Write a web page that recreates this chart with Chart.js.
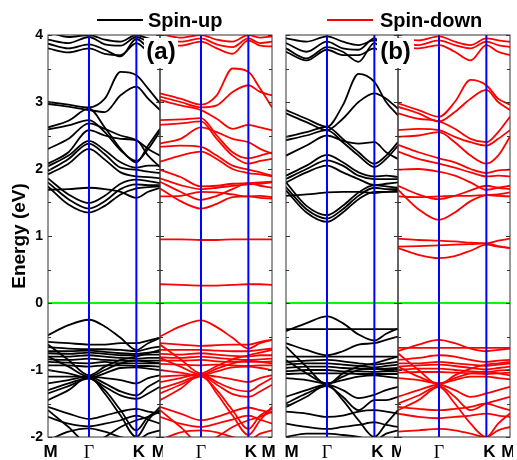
<!DOCTYPE html>
<html>
<head>
<meta charset="utf-8">
<script src="https://cdn.jsdelivr.net/npm/chart.js@4.4.1/dist/chart.umd.min.js"></script>
<style>
  body { margin: 0; background: #fff; }
  #wrap { position: relative; width: 517px; height: 460px; overflow: hidden; font-family: "Liberation Sans", Arial, sans-serif; }
  canvas { position: absolute; top: 0; }
  .legline { position: absolute; height: 2px; }
  .legtxt { position: absolute; font-weight: bold; font-size: 20px; line-height: 20px; color: #000; white-space: nowrap; }
  .plabel { position: absolute; background: #fff; font-weight: bold; font-size: 24px; line-height: 26px; text-align: center; color: #000; }
</style>
</head>
<body>
<div id="wrap">
  <canvas id="pA1"></canvas>
  <canvas id="pA2"></canvas>
  <canvas id="pB1"></canvas>
  <canvas id="pB2"></canvas>
  <div class="legline" style="left:97px;top:19px;width:46px;background:#000"></div>
  <div class="legtxt" style="left:148px;top:10px">Spin-up</div>
  <div class="legline" style="left:327px;top:19px;width:46px;background:#ff0000"></div>
  <div class="legtxt" style="left:380px;top:10px">Spin-down</div>
  <div class="plabel" style="left:144px;top:38px;width:34px;height:30px">(a)</div>
  <div class="plabel" style="left:377px;top:38px;width:37px;height:30px">(b)</div>
</div>
<script>
// k path M - Γ - K - M, as fraction of path length
const kPts = [0, 0.183, 0.366, 0.507, 0.648, 0.789, 0.894, 1];
const eTicks = [-2, -1, 0, 1, 2, 3, 4];

// (a) spin-up, energies in eV at kPts
const upA = [
  [4.05, 3.97, 4.0, 3.93, 3.9, 4.0, 3.95, 3.92],
  [3.93, 3.88, 3.97, 3.86, 3.84, 3.97, 3.9, 3.86],
  [3.87, 3.8, 3.86, 3.78, 3.68, 3.94, 3.82, 3.79],
  [3.8, 3.74, 3.8, 3.72, 3.7, 3.88, 3.76, 3.73],
  [3.0, 2.96, 2.92, 3.05, 3.45, 3.4, 3.2, 2.98],
  [2.97, 2.93, 2.88, 2.85, 3.1, 3.23, 3.05, 2.88],
  [2.62, 2.72, 2.9, 2.62, 2.3, 2.1, 2.35, 2.6],
  [2.59, 2.65, 2.73, 2.55, 2.28, 2.12, 2.3, 2.56],
  [2.3, 2.45, 2.68, 2.6, 2.5, 2.43, 2.3, 2.2],
  [2.08, 2.25, 2.58, 2.5, 2.45, 2.43, 2.2, 2.03],
  [2.04, 2.2, 2.42, 2.28, 2.1, 2.02, 2.05, 2.05],
  [1.97, 2.15, 2.38, 2.22, 2.02, 1.99, 1.96, 1.94],
  [1.92, 2.08, 2.3, 2.14, 1.95, 1.89, 1.88, 1.86],
  [1.86, 1.62, 1.49, 1.6, 1.78, 1.84, 1.82, 1.79],
  [1.8, 1.55, 1.41, 1.52, 1.7, 1.77, 1.76, 1.76],
  [1.74, 1.47, 1.35, 1.45, 1.62, 1.71, 1.73, 1.74],
  [1.69, 1.7, 1.72, 1.7, 1.66, 1.57, 1.66, 1.72],
  [-0.48, -0.33, -0.25, -0.35, -0.52, -0.7, -0.6, -0.52],
  [-0.58, -0.6, -0.62, -0.62, -0.6, -0.6, -0.56, -0.52],
  [-0.66, -0.68, -0.69, -0.69, -0.7, -0.72, -0.68, -0.65],
  [-0.72, -0.72, -0.71, -0.73, -0.75, -0.76, -0.74, -0.73],
  [-0.75, -0.76, -0.74, -0.76, -0.78, -0.78, -0.77, -0.77],
  [-0.8, -0.8, -0.78, -0.8, -0.82, -0.83, -0.82, -0.82],
  [-0.84, -0.85, -0.83, -0.85, -0.86, -0.86, -0.86, -0.86],
  [-0.88, -0.89, -0.9, -0.88, -0.9, -0.9, -0.9, -0.9],
  [-0.93, -0.93, -0.95, -0.93, -0.93, -0.94, -0.94, -0.95],
  [-0.62, -0.85, -1.08, -0.95, -0.85, -0.8, -0.75, -0.7],
  [-0.8, -0.95, -1.1, -1.0, -0.9, -0.86, -0.88, -0.9],
  [-1.0, -1.05, -1.12, -1.05, -0.97, -0.96, -0.98, -1.0],
  [-1.1, -1.1, -1.1, -1.12, -1.15, -1.2, -1.12, -1.08],
  [-1.2, -1.15, -1.1, -1.2, -1.32, -1.38, -1.25, -1.15],
  [-1.3, -1.2, -1.12, -1.25, -1.38, -1.43, -1.35, -1.25],
  [-1.45, -1.3, -1.1, -1.35, -1.68, -2.0, -1.75, -1.55],
  [-1.35, -1.24, -1.13, -1.3, -1.6, -1.9, -1.7, -1.6],
  [-1.55, -1.65, -1.73, -1.68, -1.62, -1.58, -1.62, -1.65],
  [-1.7, -1.8, -1.84, -1.8, -1.75, -1.68, -1.74, -1.8],
  [-2.05, -1.92, -1.87, -1.92, -2.0, -2.05, -1.95, -1.9],
  [-1.6, -1.85, -2.1, -2.0, -1.85, -1.75, -1.7, -1.62]
];

// (a) spin-down
const dnA = [
  [4.02, 3.96, 4.0, 3.93, 3.9, 4.0, 3.96, 3.98],
  [3.93, 3.9, 3.95, 3.86, 3.82, 3.95, 3.88, 3.9],
  [3.88, 3.84, 3.9, 3.8, 3.72, 3.92, 3.84, 3.83],
  [3.13, 3.05, 2.96, 3.1, 3.5, 3.45, 3.2, 2.92],
  [3.08, 3.0, 2.92, 2.95, 3.15, 3.25, 3.15, 3.1],
  [3.03, 2.95, 2.88, 2.75, 2.6, 2.66, 2.62, 2.58],
  [2.73, 2.74, 2.76, 2.5, 2.25, 2.16, 2.2, 2.25],
  [2.66, 2.68, 2.71, 2.45, 2.2, 2.08, 2.12, 2.15],
  [2.38, 2.45, 2.62, 2.55, 2.45, 2.4, 2.3, 2.23],
  [2.33, 2.35, 2.33, 2.2, 2.05, 1.99, 1.95, 1.9],
  [2.11, 2.2, 2.26, 2.15, 2.0, 1.94, 1.92, 1.89],
  [1.99, 1.88, 1.74, 1.75, 1.78, 1.79, 1.8, 1.81],
  [1.86, 1.76, 1.7, 1.72, 1.75, 1.77, 1.78, 1.8],
  [1.81, 1.66, 1.54, 1.6, 1.7, 1.79, 1.75, 1.72],
  [1.71, 1.52, 1.41, 1.48, 1.58, 1.59, 1.57, 1.56],
  [1.59, 1.6, 1.66, 1.65, 1.62, 1.59, 1.6, 1.58],
  [0.95, 0.95, 0.94, 0.94, 0.95, 0.95, 0.95, 0.95],
  [0.28, 0.27, 0.26, 0.26, 0.27, 0.28, 0.28, 0.27],
  [-0.5, -0.35, -0.26, -0.36, -0.52, -0.68, -0.6, -0.55],
  [-0.6, -0.62, -0.64, -0.63, -0.62, -0.62, -0.58, -0.55],
  [-0.7, -0.7, -0.7, -0.71, -0.72, -0.72, -0.7, -0.68],
  [-0.76, -0.77, -0.75, -0.77, -0.79, -0.8, -0.78, -0.78],
  [-0.81, -0.82, -0.8, -0.82, -0.84, -0.85, -0.84, -0.83],
  [-0.86, -0.86, -0.85, -0.87, -0.88, -0.88, -0.88, -0.87],
  [-0.91, -0.92, -0.93, -0.92, -0.93, -0.94, -0.93, -0.93],
  [-0.62, -0.84, -1.05, -0.94, -0.84, -0.78, -0.74, -0.7],
  [-0.82, -0.95, -1.07, -0.98, -0.9, -0.86, -0.88, -0.9],
  [-1.0, -1.04, -1.08, -1.02, -0.96, -0.95, -0.97, -1.0],
  [-1.1, -1.08, -1.07, -1.1, -1.14, -1.18, -1.12, -1.08],
  [-1.18, -1.12, -1.06, -1.18, -1.28, -1.32, -1.22, -1.12],
  [-1.28, -1.18, -1.08, -1.22, -1.36, -1.4, -1.32, -1.22],
  [-1.45, -1.28, -1.07, -1.35, -1.68, -1.97, -1.75, -1.55],
  [-1.35, -1.22, -1.1, -1.3, -1.6, -1.88, -1.68, -1.58],
  [-1.55, -1.65, -1.75, -1.7, -1.62, -1.56, -1.6, -1.64],
  [-1.7, -1.8, -1.85, -1.8, -1.74, -1.68, -1.74, -1.8],
  [-2.05, -1.93, -1.9, -1.93, -2.0, -2.05, -1.95, -1.9],
  [-1.6, -1.85, -2.1, -2.0, -1.85, -1.75, -1.7, -1.62]
];

// (b) spin-up
const upB = [
  [3.95, 3.9, 3.98, 3.9, 3.85, 3.92, 3.9, 3.88],
  [3.88, 3.75, 3.9, 3.8, 3.78, 3.95, 3.8, 3.82],
  [3.8, 3.65, 3.82, 3.75, 3.6, 3.88, 3.75, 3.75],
  [3.75, 3.62, 3.78, 3.7, 3.7, 3.8, 3.7, 3.7],
  [2.88, 2.75, 2.63, 2.95, 3.42, 3.3, 3.0, 2.8],
  [2.83, 2.7, 2.58, 2.75, 3.0, 3.13, 3.05, 2.9],
  [2.48, 2.55, 2.63, 2.45, 2.25, 2.08, 2.2, 2.4],
  [2.43, 2.5, 2.58, 2.4, 2.2, 2.03, 2.15, 2.35],
  [2.2, 2.35, 2.5, 2.42, 2.38, 2.4, 2.25, 2.15],
  [1.9, 2.05, 2.21, 2.1, 1.95, 1.89, 1.9, 1.88],
  [1.85, 2.0, 2.13, 2.05, 1.9, 1.85, 1.85, 1.85],
  [1.8, 1.95, 2.05, 1.95, 1.85, 1.76, 1.78, 1.8],
  [1.8, 1.45, 1.31, 1.45, 1.65, 1.76, 1.74, 1.72],
  [1.73, 1.4, 1.26, 1.4, 1.6, 1.72, 1.7, 1.7],
  [1.68, 1.35, 1.21, 1.35, 1.55, 1.66, 1.66, 1.68],
  [1.6, 1.62, 1.65, 1.66, 1.66, 1.64, 1.66, 1.66],
  [-0.42, -0.3, -0.2, -0.3, -0.47, -0.56, -0.46, -0.38],
  [-0.39, -0.39, -0.39, -0.39, -0.39, -0.39, -0.39, -0.39],
  [-0.6, -0.7, -0.78, -0.72, -0.62, -0.6, -0.55, -0.5],
  [-0.8, -0.8, -0.8, -0.8, -0.8, -0.8, -0.8, -0.8],
  [-0.88, -0.86, -0.85, -0.87, -0.9, -0.92, -0.9, -0.88],
  [-0.92, -0.9, -0.9, -0.92, -0.94, -0.96, -0.94, -0.92],
  [-0.97, -0.95, -0.95, -0.97, -0.98, -0.99, -0.98, -0.97],
  [-1.02, -1.0, -1.0, -1.02, -1.02, -1.03, -1.02, -1.02],
  [-1.06, -1.05, -1.05, -1.05, -1.06, -1.06, -1.06, -1.06],
  [-0.65, -0.95, -1.22, -1.05, -0.95, -0.9, -0.85, -0.8],
  [-0.85, -1.05, -1.2, -1.1, -1.0, -0.98, -1.0, -1.0],
  [-1.12, -1.15, -1.2, -1.15, -1.1, -1.08, -1.1, -1.12],
  [-1.4, -1.3, -1.22, -1.3, -1.42, -1.37, -1.3, -1.25],
  [-1.5, -1.35, -1.24, -1.4, -1.6, -1.45, -1.45, -1.4],
  [-1.55, -1.4, -1.22, -1.45, -1.75, -2.0, -1.8, -1.6],
  [-1.62, -1.65, -1.7, -1.68, -1.62, -1.6, -1.62, -1.65],
  [-1.8, -1.85, -1.88, -1.85, -1.82, -1.78, -1.82, -1.85],
  [-2.0, -1.95, -1.95, -1.97, -2.0, -2.05, -1.95, -1.9]
];

// (b) spin-down
const dnB = [
  [3.95, 3.92, 3.98, 3.9, 3.85, 3.95, 3.92, 3.9],
  [3.9, 3.85, 3.92, 3.85, 3.8, 3.9, 3.85, 3.82],
  [3.82, 3.8, 3.85, 3.75, 3.62, 3.85, 3.75, 3.7],
  [2.98, 2.88, 2.78, 3.0, 3.33, 3.25, 3.05, 2.96],
  [2.93, 2.83, 2.71, 2.85, 3.05, 3.18, 3.0, 2.88],
  [2.83, 2.75, 2.71, 2.6, 2.45, 2.4, 2.55, 2.78],
  [2.58, 2.6, 2.58, 2.48, 2.4, 2.35, 2.45, 2.58],
  [2.48, 2.5, 2.55, 2.4, 2.2, 2.08, 2.2, 2.48],
  [2.36, 2.25, 2.16, 2.1, 2.0, 1.94, 1.98, 1.99],
  [2.26, 2.15, 2.08, 2.02, 1.95, 1.89, 1.9, 1.89],
  [1.99, 2.0, 1.96, 1.9, 1.8, 1.69, 1.72, 1.75],
  [1.69, 1.4, 1.24, 1.35, 1.52, 1.61, 1.62, 1.65],
  [1.59, 1.58, 1.59, 1.6, 1.6, 1.61, 1.6, 1.59],
  [1.75, 1.62, 1.55, 1.6, 1.68, 1.75, 1.72, 1.7],
  [0.96, 0.94, 0.93, 0.92, 0.9, 0.89, 0.93, 0.96],
  [0.84, 0.85, 0.86, 0.87, 0.88, 0.89, 0.85, 0.82],
  [0.82, 0.72, 0.67, 0.7, 0.78, 0.87, 0.84, 0.82],
  [-0.72, -0.62, -0.55, -0.6, -0.68, -0.72, -0.7, -0.68],
  [-0.67, -0.67, -0.67, -0.67, -0.67, -0.67, -0.67, -0.67],
  [-0.85, -0.82, -0.78, -0.8, -0.85, -0.88, -0.86, -0.85],
  [-0.9, -0.9, -0.88, -0.9, -0.92, -0.94, -0.92, -0.9],
  [-0.95, -0.93, -0.92, -0.94, -0.97, -0.99, -0.97, -0.95],
  [-1.0, -0.98, -0.98, -1.0, -1.02, -1.03, -1.01, -1.0],
  [-1.04, -1.03, -1.03, -1.04, -1.05, -1.06, -1.05, -1.04],
  [-0.75, -1.0, -1.22, -1.08, -0.98, -0.92, -0.9, -0.88],
  [-0.95, -1.1, -1.2, -1.12, -1.05, -1.02, -1.05, -1.08],
  [-1.12, -1.15, -1.2, -1.15, -1.1, -1.1, -1.12, -1.14],
  [-1.4, -1.3, -1.22, -1.3, -1.4, -1.35, -1.3, -1.25],
  [-1.5, -1.38, -1.24, -1.4, -1.6, -1.5, -1.45, -1.4],
  [-1.6, -1.45, -1.25, -1.5, -1.8, -2.0, -1.8, -1.65],
  [-1.55, -1.58, -1.6, -1.58, -1.55, -1.5, -1.55, -1.6],
  [-1.65, -1.7, -1.72, -1.7, -1.68, -1.65, -1.68, -1.7],
  [-1.92, -1.9, -1.88, -1.9, -1.95, -2.0, -1.9, -1.85]
];

Chart.defaults.font.family = '"Liberation Sans", Arial, sans-serif';

// panel frame + inward ticks every 0.5 eV
const framePlugin = {
  id: 'frame',
  afterDatasetsDraw(chart) {
    const { ctx, chartArea: a } = chart;
    const y = chart.scales.y;
    ctx.save();
    ctx.strokeStyle = '#333';
    ctx.lineWidth = 1;
    ctx.strokeRect(a.left, a.top, a.width, a.height);
    ctx.beginPath();
    for (let v = -2; v <= 4; v += 0.5) {
      const py = Math.round(y.getPixelForValue(v)) + 0.5;
      const len = Number.isInteger(v) ? 4 : 3;
      ctx.moveTo(a.left, py); ctx.lineTo(a.left + len, py);
      ctx.moveTo(a.right, py); ctx.lineTo(a.right - len, py);
    }
    ctx.stroke();
    ctx.restore();
  }
};

function bandSets(bands, color) {
  return bands.map(b => ({
    data: b.map((e, i) => ({ x: kPts[i], y: e })),
    borderColor: color, borderWidth: 1.8, pointRadius: 0,
    cubicInterpolationMode: 'monotone', clip: 0, order: 2
  }));
}

function guideSets() {
  const g = { pointRadius: 0, borderWidth: 2, tension: 0, clip: 0, order: 0 };
  return [
    { ...g, data: [{ x: kPts[2], y: -2 }, { x: kPts[2], y: 4 }], borderColor: '#0000ff' },
    { ...g, data: [{ x: kPts[5], y: -2 }, { x: kPts[5], y: 4 }], borderColor: '#0000ff' },
    { ...g, data: [{ x: 0, y: 0 }, { x: 1, y: 0 }], borderColor: '#00ff00' }
  ];
}

// areaLeft: page x of the panel's left edge; tickAt / names: x labels under the panel
function makePanel(id, areaLeft, bands, color, tickAt, names, first) {
  const padL = first ? 0 : 3, yW = first ? 48 : 0;
  const cv = document.getElementById(id);
  const left = areaLeft - yW - padL;
  cv.width = 112 + yW + padL + 3;
  cv.height = 460;
  cv.style.left = left + 'px';
  new Chart(cv, {
    type: 'line',
    data: { datasets: [...guideSets(), ...bandSets(bands, color)] },
    plugins: [framePlugin],
    options: {
      responsive: false, animation: false, devicePixelRatio: 1, events: [],
      layout: { padding: { left: padL, right: 3, top: 35, bottom: 0 } },
      plugins: { legend: { display: false }, tooltip: { enabled: false } },
      scales: {
        x: {
          type: 'linear', min: 0, max: 1,
          grid: { display: false, drawTicks: false }, border: { display: false },
          afterBuildTicks: s => { s.ticks = tickAt.map(v => ({ value: v })); },
          afterFit: s => { s.height = 23; s.paddingLeft = 0; s.paddingRight = 0; },
          ticks: {
            autoSkip: false, maxRotation: 0, padding: 5, color: '#000',
            callback: (v, i) => names[i],
            font: c => names[c.index] === 'Γ'
              ? { family: '"Liberation Serif", "Times New Roman", serif', size: 18, weight: 'normal' }
              : { size: 17, weight: 'bold' }
          }
        },
        y: {
          display: first, min: -2, max: 4,
          grid: { display: false, drawTicks: false }, border: { display: false },
          afterBuildTicks: s => { s.ticks = eTicks.map(v => ({ value: v })); },
          afterFit: s => { s.width = yW; },
          ticks: { padding: 5, color: '#000', font: { size: 14, weight: 'bold' } },
          title: {
            display: true, text: 'Energy (eV)', color: '#000',
            font: { size: 19, weight: 'bold' }, padding: { top: 8, bottom: 0 }
          }
        }
      }
    }
  });
}

makePanel('pA1', 48, upA, '#000000', [0.024, 0.366, 0.812, 0.99], ['M', 'Γ', 'K', 'M'], true);
makePanel('pA2', 160, dnA, '#ff0000', [0.366, 0.812, 0.97], ['Γ', 'K', 'M'], false);
makePanel('pB1', 286, upB, '#000000', [0.05, 0.366, 0.815, 1.0], ['M', 'Γ', 'K', 'M'], false);
makePanel('pB2', 398, dnB, '#ff0000', [0.366, 0.815, 0.985], ['Γ', 'K', 'M'], false);
</script>
</body>
</html>
